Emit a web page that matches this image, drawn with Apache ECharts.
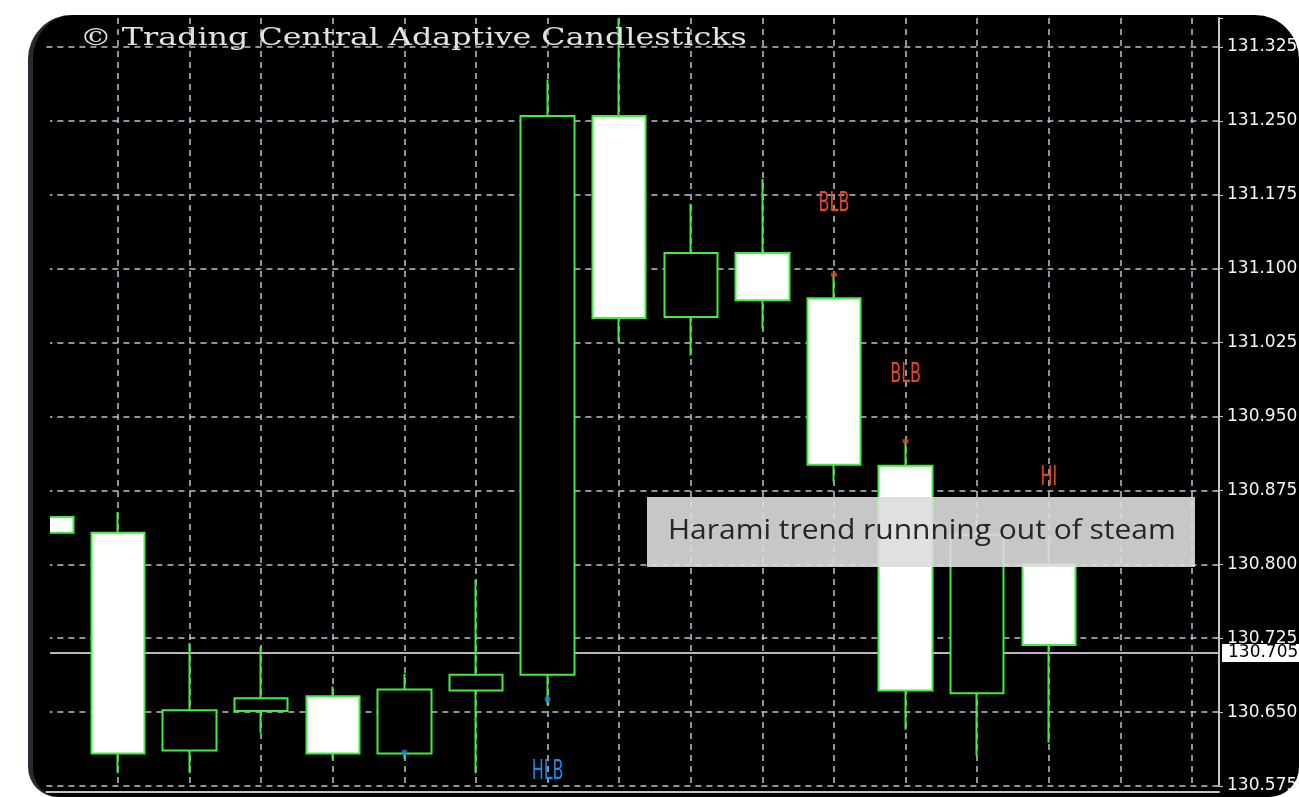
<!DOCTYPE html>
<html>
<head>
<meta charset="utf-8">
<title>Trading Central Adaptive Candlesticks</title>
<script src="https://cdn.jsdelivr.net/npm/echarts@6/dist/echarts.min.js"></script>
<style>
html, body { margin: 0; padding: 0; background: #fff; width: 1299px; height: 797px; overflow: hidden; }
#frame {
    position: absolute; left: 28px; top: 15px; width: 1271px; height: 782px;
    background: #000; box-sizing: border-box;
    border-left: 5px solid #26292d;
    border-radius: 44px 44px 30px 30px;
}
#chart { position: absolute; left: 0; top: 0; width: 1299px; height: 797px; }
/* left edge of the plot window, hides the part of the first bar that is off screen */
#edge {
    position: absolute; left: 0; top: 70px; width: 50px; height: 680px;
    background: linear-gradient(to right, #fff 0, #fff 28px, #26292d 28px, #26292d 33px, #000 33px);
}
</style>
</head>
<body>
<div id="frame"></div>
<div id="chart"></div>
<div id="edge"></div>
<script>
// candle slots (one per bar) and OHLC
var slots  = [0, 1, 2, 3, 4, 5, 6, 7, 8, 9, 10, 11, 12, 13, 14];
var opens  = [130.848, 130.832, 130.611, 130.651, 130.666, 130.608, 130.672, 130.688, 131.255, 131.051, 131.116, 131.070, 130.900, 130.669, 130.800];
var closes = [130.832, 130.608, 130.652, 130.664, 130.608, 130.673, 130.688, 131.255, 131.050, 131.116, 131.068, 130.901, 130.672, 130.830, 130.718];
var lows   = [130.832, 130.588, 130.588, 130.629, 130.602, 130.603, 130.588, 130.657, 131.026, 131.012, 131.039, 130.884, 130.632, 130.606, 130.619];
var highs  = [130.848, 130.853, 130.720, 130.716, 130.676, 130.689, 130.784, 131.292, 131.354, 131.166, 131.191, 131.094, 130.924, 130.845, 130.823];

// pattern signals
var bearDots   = [[11, 131.094], [12, 130.925], [14, 130.823]];
var bullDots   = [[7, 130.663], [5, 130.609]];
var bearLabels = [[11, 131.166, 'BLB'], [12, 130.992, 'BLB'], [14, 130.888, 'HI']];
var bullLabels = [[7, 130.589, 'HLB']];

var currentPrice = 130.705;
var priceMin = 130.575, priceMax = 131.3544, priceStep = 0.075;

var green = '#40ee3c';
var gridLine = { color: '#b9c3d1', type: [6, 5], width: 1.5 };

var candles = [];
for (var i = 0; i < slots.length; i++) {
    candles.push([slots[i], opens[i], closes[i], lows[i], highs[i]]);
}

// tall narrow signal text, placed through the axes
function signalSeries(list, color) {
    return {
        type: 'custom', z: 6,
        data: list.map(function (d) { return [d[0], d[1]]; }),
        encode: { x: 0, y: 1 },
        renderItem: function (params, api) {
            var p = api.coord([api.value(0), api.value(1)]);
            return {
                type: 'text', x: p[0], y: p[1], scaleY: 1.7,
                style: {
                    text: list[params.dataIndex][2], fill: color,
                    font: '16px "DejaVu Sans"', align: 'center', verticalAlign: 'middle'
                }
            };
        }
    };
}

var chart = echarts.init(document.getElementById('chart'));
chart.setOption({
    backgroundColor: 'transparent',
    animation: false,
    grid: { left: 46.4, right: 80, top: 18, bottom: 11, containLabel: false, outerBoundsMode: 'none' },
    xAxis: {
        type: 'value', min: 0, max: 16.377, interval: 1,
        offset: 6,
        axisLine: { show: true, onZero: false, lineStyle: { color: '#c4c4c8', width: 2 } },
        axisTick: { show: false },
        axisLabel: { show: false },
        splitLine: { show: true, showMinLine: false, showMaxLine: false, lineStyle: gridLine }
    },
    yAxis: {
        type: 'value', position: 'right',
        min: priceMin, max: priceMax, interval: priceStep,
        axisLine: { show: true, onZero: false, lineStyle: { color: '#c4c4c8', width: 2 } },
        axisTick: { show: true, length: 4, lineStyle: { color: '#c4c4c8' } },
        axisLabel: {
            color: '#f4f4f4', fontSize: 17, fontFamily: 'DejaVu Sans', margin: 8,
            formatter: function (v) {
                var k = v / priceStep;
                return Math.abs(k - Math.round(k)) < 1e-6 ? v.toFixed(3) : '';
            }
        },
        splitLine: { show: true, showMaxLine: false, lineStyle: gridLine }
    },
    graphic: [
        {
            type: 'text', x: 80, y: 38, scaleX: 1.27, z: 50,
            style: {
                text: '\u00a9 Trading Central Adaptive Candlesticks', fill: '#e2e2e2',
                font: '25px "DejaVu Serif"', verticalAlign: 'middle'
            }
        },
        {
            type: 'rect', left: 647, top: 497, z: 100,
            shape: { width: 548, height: 70 },
            style: { fill: 'rgba(221,221,221,0.9)' }
        },
        {
            type: 'text', x: 668, y: 531, scaleX: 1.11, z: 101,
            style: {
                text: 'Harami trend runnning out of steam', fill: '#262626',
                font: '27px "Open Sans"', verticalAlign: 'middle'
            }
        }
    ],
    series: [
        {
            type: 'candlestick',
            data: candles,
            barWidth: 54,
            z: 3,
            itemStyle: {
                color: '#000', color0: '#ffffff',
                borderColor: green, borderColor0: green, borderWidth: 2
            },
            markLine: {
                silent: true, z: 1,
                symbol: ['none', 'none'],
                lineStyle: { color: '#b6b6bc', width: 2, type: 'solid' },
                label: {
                    position: 'end', distance: 3,
                    formatter: currentPrice.toFixed(3),
                    color: '#000', backgroundColor: '#fff',
                    fontSize: 17, fontFamily: 'DejaVu Sans', padding: [1, 6, 0, 6]
                },
                data: [{ yAxis: currentPrice }]
            }
        },
        {
            type: 'scatter', data: bearDots, z: 5,
            symbol: 'rect', symbolSize: [6, 4],
            itemStyle: { color: '#e8401c' }
        },
        {
            type: 'scatter', data: bullDots, z: 5,
            symbol: 'circle', symbolSize: 6,
            itemStyle: { color: '#1d7fe6' }
        },
        signalSeries(bearLabels, '#e2482a'),
        signalSeries(bullLabels, '#2088e2')
    ]
});
</script>
</body>
</html>
